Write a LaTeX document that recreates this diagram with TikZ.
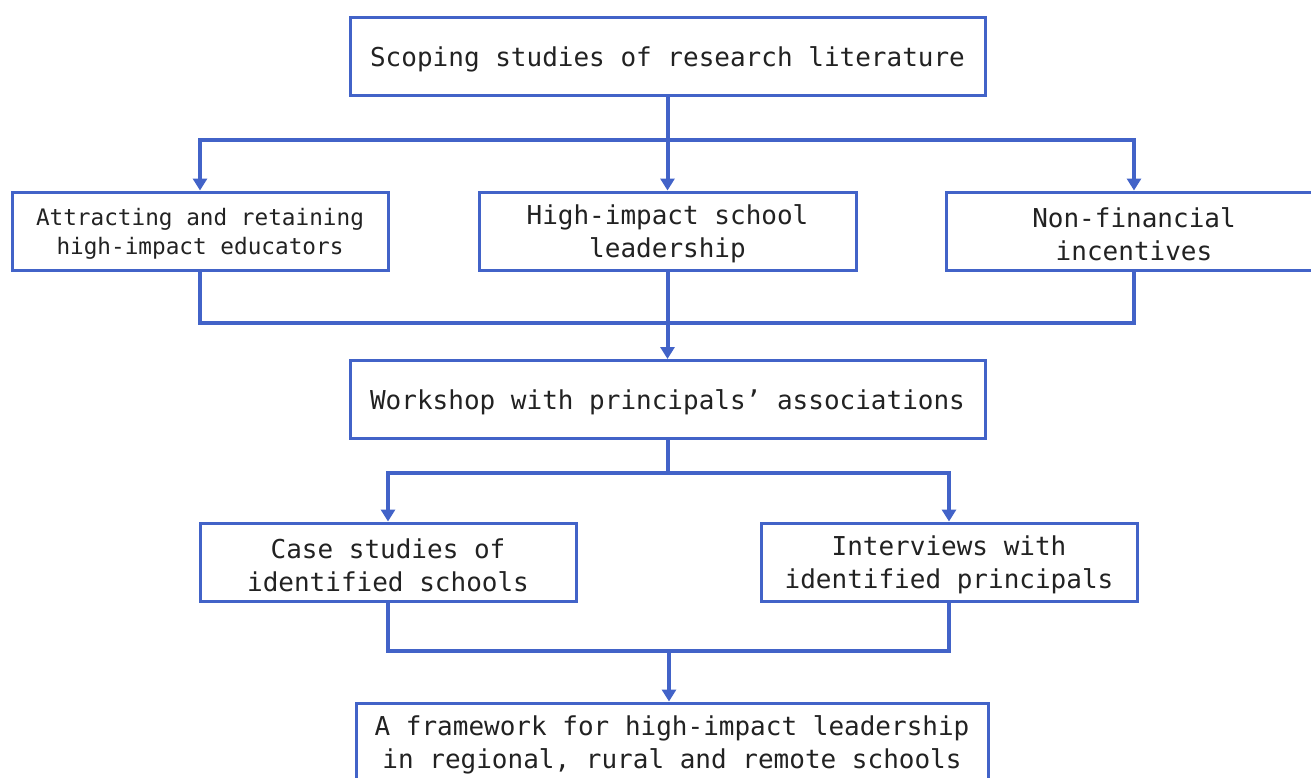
\documentclass[tikz,border=0pt]{standalone}
\usepackage{fontspec}
\newfontfamily\boxfont{DejaVu Sans Mono}
\usetikzlibrary{arrows.meta}
\definecolor{flowblue}{RGB}{66,99,200}
\definecolor{ink}{RGB}{34,34,34}
\begin{document}
\begin{tikzpicture}[x=1pt,y=-1pt,
  box/.style={draw=flowblue, line width=3pt, fill=white, minimum width=#1,
    minimum height=78pt, inner sep=0pt},
  caption/.style={align=center, text=ink, inner sep=0pt, yshift=-3pt},
  big/.style={font=\boxfont\fontsize{26}{33}\selectfont},
  small/.style={font=\boxfont\fontsize{22.7}{29}\selectfont},
  link/.style={draw=flowblue, line width=4pt},
  arr/.style={link, -{Triangle[width=14pt,length=12pt]}}]
\useasboundingbox (0,0) rectangle (1311,777);

% boxes, each with its caption set a little below the geometric centre
\node[box=635pt, label={[caption,big]center:Scoping studies of research literature}] (scope) at (667.5,56) {};
\node[box=376pt, label={[caption,small]center:Attracting and retaining\\high-impact educators}] (att) at (200,231) {};
\node[box=377pt, label={[caption,big]center:High-impact school\\leadership}] (lead) at (667.5,231) {};
\node[box=376pt, label={[caption,big]center:Non-financial\\incentives}] (nonfin) at (1134,231) {};
\node[box=635pt, label={[caption,big]center:Workshop with principals’ associations}] (work) at (667.5,399.5) {};
\node[box=376pt, label={[caption,big]center:Case studies of\\identified schools}] (cases) at (388,562) {};
\node[box=376pt, label={[caption,big]center:Interviews with\\identified principals}] (inter) at (949,562) {};
\node[box=632pt, label={[caption,big]center:A framework for high-impact leadership\\in regional, rural and remote schools}] (frame) at (672,742) {};

% branch and merge points
\coordinate (split1) at (667.5,140);
\coordinate (merge1) at (667.5,323);
\coordinate (split2) at (667.5,473);
\coordinate (merge2) at (669,651);

% scoping studies fan out to the three themes
\draw[link] (scope.south) -- (split1);
\draw[arr] (split1) -- (lead.north);
\draw[arr] (split1) -| (att.north);
\draw[arr] (split1) -| (nonfin.north);

% themes merge into the workshop
\draw[link] (att.south) |- (merge1);
\draw[link] (nonfin.south) |- (merge1);
\draw[link] (lead.south) -- (merge1);
\draw[arr] (merge1) -- (work.north);

% workshop splits into case studies and interviews
\draw[link] (work.south) -- (split2);
\draw[arr] (split2) -| (cases.north);
\draw[arr] (split2) -| (inter.north);

% both feed the framework
\draw[link] (cases.south) |- (merge2);
\draw[link] (inter.south) |- (merge2);
\draw[arr] (merge2) -- (merge2 |- frame.north);
\end{tikzpicture}
\end{document}
